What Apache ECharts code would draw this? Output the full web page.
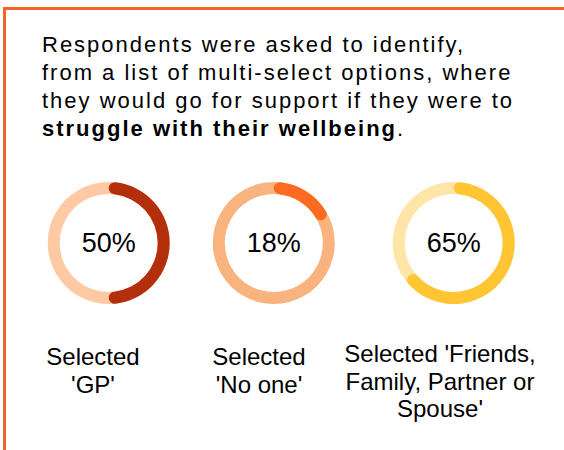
<!DOCTYPE html>
<html>
<head>
<meta charset="utf-8">
<script src="https://cdn.jsdelivr.net/npm/echarts@6/dist/echarts.min.js"></script>
<style>
  html, body { margin: 0; padding: 0; background: #ffffff; }
  #chart { width: 564px; height: 450px; }
</style>
</head>
<body>
<div id="chart"></div>
<script>
// ---- data ----
const introLines = [
  'Respondents were asked to identify,',
  'from a list of multi-select options, where',
  'they would go for support if they were to'
];
const introBold = 'struggle with their wellbeing';
const introEnd = '.';
const categories = [
  "Selected\n'GP'",
  "Selected\n'No one'",
  "Selected 'Friends,\nFamily, Partner or\nSpouse'"
];
const percentages = [50, 18, 65];
const fullScale = 100;

// ---- styles / layout ----
const FONT = "'Liberation Sans', Arial, Helvetica, sans-serif";
const borderColor = '#F4632A';
const textColor = '#000000';
const progressColors = ['#B32E0B', '#FF6A21', '#FFC533'];
const trackColors = ['#FFC9A3', '#F9B37F', '#FFE6A8'];
const ringCentersX = [108.7, 273.8, 453.7];
const ringCenterY = 243;
const ringRadius = [49, 61];
const labelX = [93, 259, 440];
const labelTop = [343, 343, 340];
const introX = 42, introFirstY = 44.7, introLineH = 27.8, introSpacing = 2;

const chart = echarts.init(document.getElementById('chart'), null, { renderer: 'svg', width: 564, height: 450 });

// measure bold width to place the trailing full stop
const mctx = document.createElement('canvas').getContext('2d');
mctx.font = 'bold 22px ' + FONT;
const boldWidth = mctx.measureText(introBold).width + introBold.length * introSpacing;

const series = [];
percentages.forEach(function (v, i) {
  series.push({
    type: 'pie',
    center: [ringCentersX[i], ringCenterY],
    radius: ringRadius,
    startAngle: 90,
    silent: true,
    animation: false,
    label: { show: false },
    labelLine: { show: false },
    emphasis: { disabled: true },
    itemStyle: { borderWidth: 0 },
    data: [{ value: fullScale, itemStyle: { color: trackColors[i] } }]
  });
  series.push({
    type: 'pie',
    center: [ringCentersX[i], ringCenterY],
    radius: ringRadius,
    startAngle: 90,
    clockwise: true,
    silent: true,
    animation: false,
    avoidLabelOverlap: false,
    label: { show: false },
    labelLine: { show: false },
    emphasis: { disabled: true },
    itemStyle: { borderWidth: 0 },
    data: [
      {
        value: v,
        itemStyle: { color: progressColors[i], borderRadius: 6, borderWidth: 0 },
        label: {
          show: true, position: 'center', formatter: '{c}%',
          fontFamily: FONT, fontSize: 27, color: textColor, padding: [0, 0, 4, 0]
        }
      },
      {
        value: fullScale - v,
        itemStyle: { color: 'rgba(0,0,0,0)', borderWidth: 0 },
        label: { show: false }
      }
    ]
  });
});

const graphics = [
  { type: 'rect', silent: true, shape: { x: 3, y: 7, width: 561, height: 3 }, style: { fill: borderColor } },
  { type: 'rect', silent: true, shape: { x: 3, y: 7, width: 3, height: 443 }, style: { fill: borderColor } }
];
introLines.forEach(function (t, i) {
  graphics.push({
    type: 'text', silent: true, x: introX, y: introFirstY + i * introLineH,
    style: { text: t, font: '22px ' + FONT, fill: textColor, align: 'left', verticalAlign: 'middle' }
  });
});
graphics.push({
  type: 'text', silent: true, x: introX, y: introFirstY + 3 * introLineH,
  style: { text: introBold, font: 'bold 22px ' + FONT, fill: textColor, align: 'left', verticalAlign: 'middle' }
});
graphics.push({
  type: 'text', silent: true, x: introX + boldWidth, y: introFirstY + 3 * introLineH,
  style: { text: introEnd, font: '22px ' + FONT, fill: textColor, align: 'left', verticalAlign: 'middle' }
});
categories.forEach(function (t, i) {
  graphics.push({
    type: 'text', silent: true, x: labelX[i], y: labelTop[i],
    style: { text: t, font: '24px ' + FONT, fill: textColor, align: 'center', verticalAlign: 'top', lineHeight: 27.5 }
  });
});

chart.setOption({
  animation: false,
  backgroundColor: '#ffffff',
  series: series,
  graphic: { elements: graphics }
});

function applySpacing() {
  const wanted = introLines.concat([introBold]);
  document.querySelectorAll('#chart svg text').forEach(function (el) {
    if (wanted.indexOf(el.textContent) >= 0) {
      el.setAttribute('letter-spacing', introSpacing);
    }
  });
}
applySpacing();
chart.on('finished', applySpacing);
</script>
</body>
</html>
